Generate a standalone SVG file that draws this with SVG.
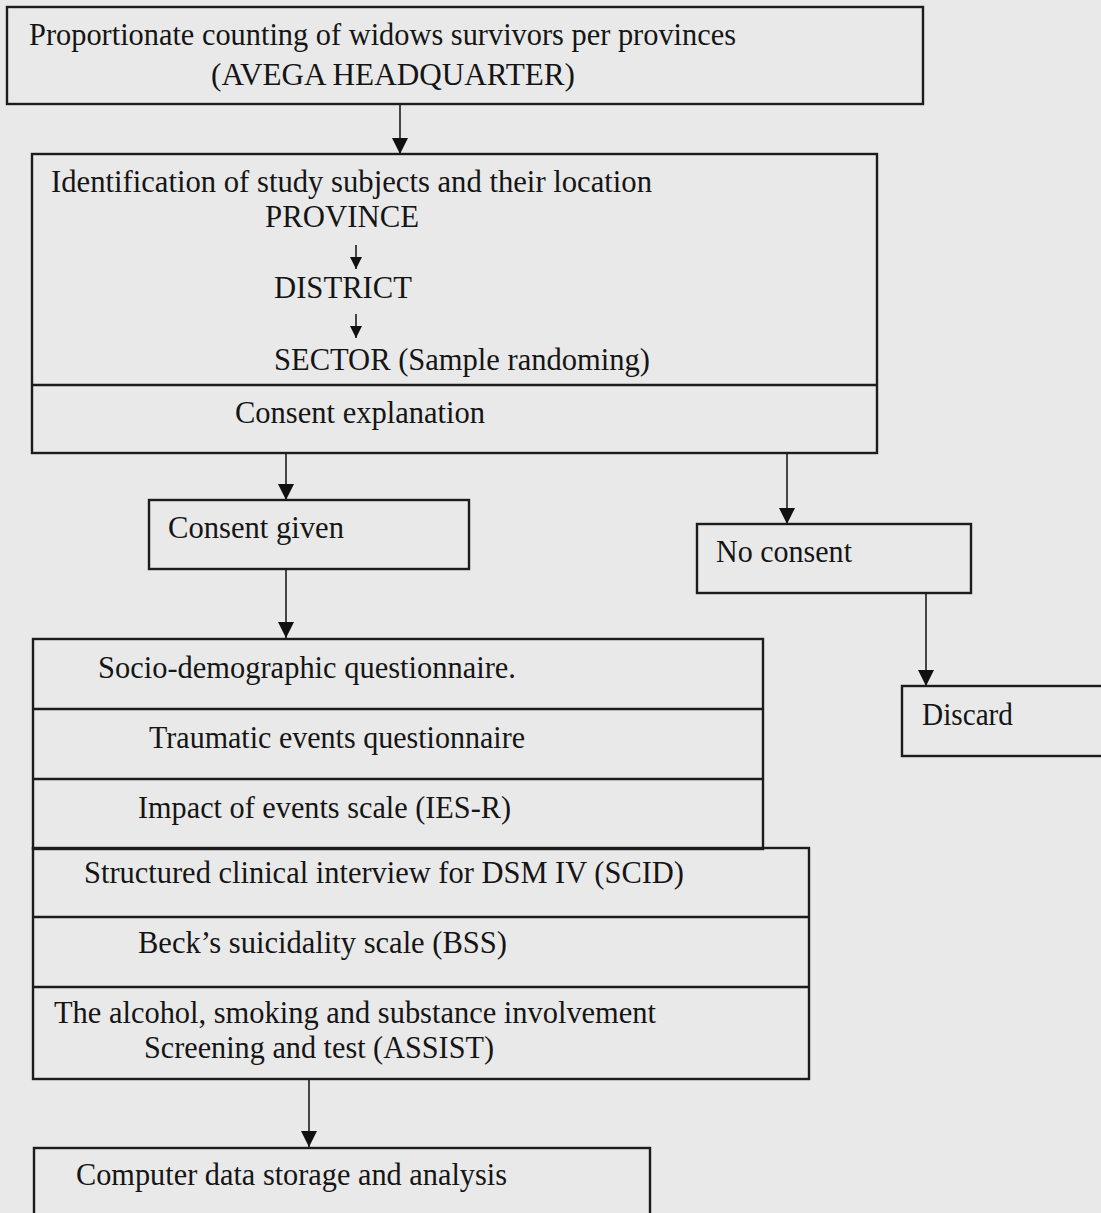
<svg xmlns="http://www.w3.org/2000/svg" width="1101" height="1213" viewBox="0 0 1101 1213">
<style>
.box{fill:none;stroke:#1c1c1c;stroke-width:2.4}
.div{stroke:#1c1c1c;stroke-width:2.4}
.t{font-family:"Liberation Serif","Times New Roman",serif;font-size:31px;fill:#151515}
.con{stroke:#1c1c1c;stroke-width:1.6;fill:none}
</style>
<defs>
<marker id="ah" markerUnits="userSpaceOnUse" markerWidth="16" markerHeight="16" viewBox="0 0 16 16" refX="16" refY="8" orient="auto">
<path d="M0,0 L16,8 L0,16 Z" fill="#111"/>
</marker>
<marker id="ahs" markerUnits="userSpaceOnUse" markerWidth="12" markerHeight="12" viewBox="0 0 12 12" refX="12" refY="6" orient="auto">
<path d="M0,0 L12,6 L0,12 Z" fill="#111"/>
</marker>
</defs>
<rect x="0" y="0" width="1101" height="1213" fill="#e9e9e9"/>
<g id="connectors">
<line class="con" x1="400" y1="105" x2="400" y2="154" marker-end="url(#ah)"/>
<line class="con" x1="356" y1="245" x2="356" y2="269" marker-end="url(#ahs)"/>
<line class="con" x1="356" y1="314" x2="356" y2="338" marker-end="url(#ahs)"/>
<line class="con" x1="286" y1="454" x2="286" y2="500" marker-end="url(#ah)"/>
<line class="con" x1="787" y1="454" x2="787" y2="524" marker-end="url(#ah)"/>
<line class="con" x1="286" y1="570" x2="286" y2="638" marker-end="url(#ah)"/>
<line class="con" x1="926" y1="594" x2="926" y2="686" marker-end="url(#ah)"/>
<line class="con" x1="309" y1="1080" x2="309" y2="1147" marker-end="url(#ah)"/>
</g>
<g id="node-counting">
<rect class="box" x="7" y="7" width="916" height="97"/>
<text class="t" x="29" y="45" textLength="707" lengthAdjust="spacingAndGlyphs">Proportionate counting of widows survivors per provinces</text>
<text class="t" x="211" y="85" textLength="364" lengthAdjust="spacingAndGlyphs">(AVEGA HEADQUARTER)</text>
</g>
<g id="node-identification">
<rect class="box" x="32" y="154" width="845" height="299"/>
<line class="div" x1="32" y1="385" x2="877" y2="385"/>
<text class="t" x="51" y="192" textLength="601" lengthAdjust="spacingAndGlyphs">Identification of study subjects and their location</text>
<text class="t" x="265" y="227" textLength="154" lengthAdjust="spacingAndGlyphs">PROVINCE</text>
<text class="t" x="274" y="298" textLength="138" lengthAdjust="spacingAndGlyphs">DISTRICT</text>
<text class="t" x="274" y="370" textLength="376" lengthAdjust="spacingAndGlyphs">SECTOR (Sample randoming)</text>
<text class="t" x="235" y="423" textLength="250" lengthAdjust="spacingAndGlyphs">Consent explanation</text>
</g>
<g id="node-consent-given">
<rect class="box" x="149" y="500" width="320" height="69"/>
<text class="t" x="168" y="538" textLength="176" lengthAdjust="spacingAndGlyphs">Consent given</text>
</g>
<g id="node-no-consent">
<rect class="box" x="697" y="524" width="274" height="69"/>
<text class="t" x="716" y="562" textLength="136" lengthAdjust="spacingAndGlyphs">No consent</text>
</g>
<g id="node-discard">
<rect class="box" x="902" y="686" width="210" height="70"/>
<text class="t" x="922" y="725" textLength="91" lengthAdjust="spacingAndGlyphs">Discard</text>
</g>
<g id="node-questionnaires">
<rect class="box" x="33" y="639" width="730" height="210"/>
<line class="div" x1="33" y1="709" x2="763" y2="709"/>
<line class="div" x1="33" y1="779" x2="763" y2="779"/>
<text class="t" x="98" y="678" textLength="418" lengthAdjust="spacingAndGlyphs">Socio-demographic questionnaire.</text>
<text class="t" x="149" y="748" textLength="376" lengthAdjust="spacingAndGlyphs">Traumatic events questionnaire</text>
<text class="t" x="138" y="818" textLength="373" lengthAdjust="spacingAndGlyphs">Impact of events scale (IES-R)</text>
</g>
<g id="node-clinical">
<rect class="box" x="33" y="848" width="776" height="231"/>
<line class="div" x1="33" y1="917" x2="809" y2="917"/>
<line class="div" x1="33" y1="987" x2="809" y2="987"/>
<text class="t" x="84" y="883" textLength="600" lengthAdjust="spacingAndGlyphs">Structured clinical interview for DSM IV (SCID)</text>
<text class="t" x="138" y="953" textLength="369" lengthAdjust="spacingAndGlyphs">Beck’s suicidality scale (BSS)</text>
<text class="t" x="54" y="1023" textLength="602" lengthAdjust="spacingAndGlyphs">The alcohol, smoking and substance involvement</text>
<text class="t" x="144" y="1058" textLength="350" lengthAdjust="spacingAndGlyphs">Screening and test (ASSIST)</text>
</g>
<g id="node-computer">
<rect class="box" x="34" y="1148" width="616" height="80"/>
<text class="t" x="76" y="1185" textLength="431" lengthAdjust="spacingAndGlyphs">Computer data storage and analysis</text>
</g>
</svg>
